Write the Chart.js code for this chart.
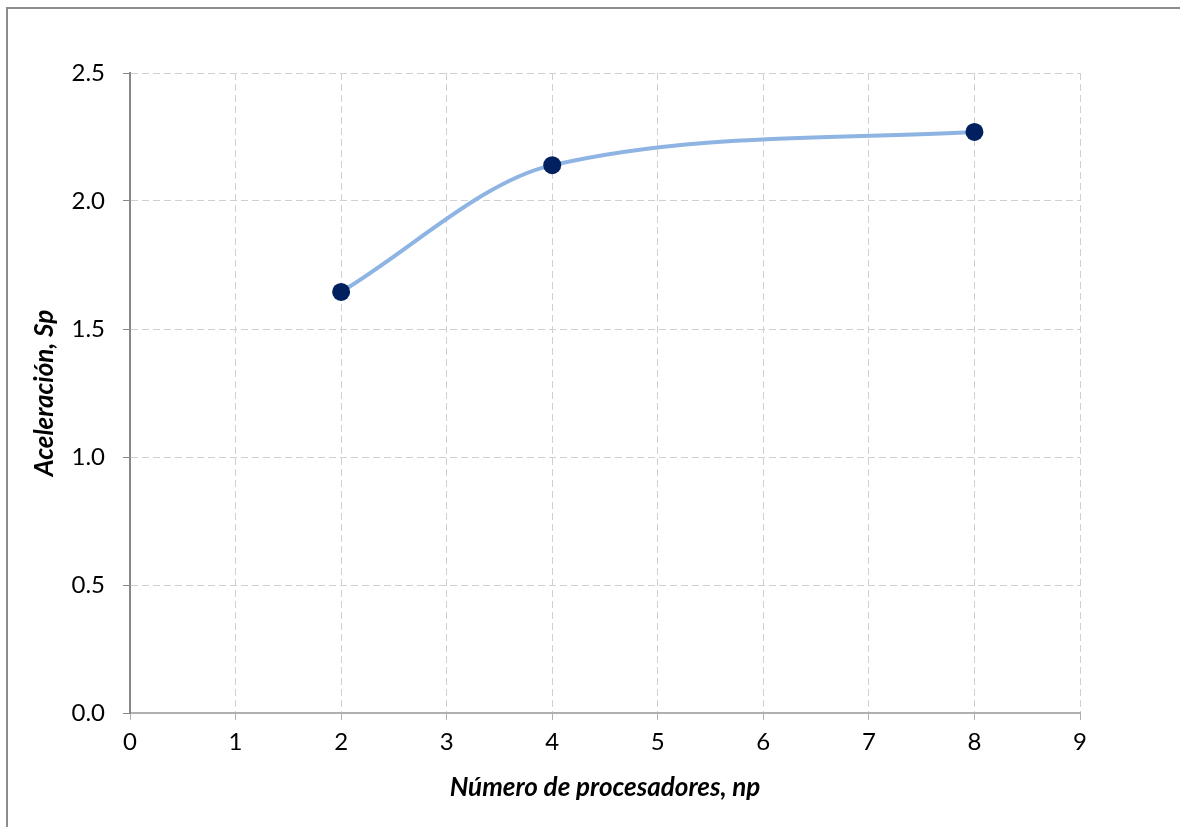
<!DOCTYPE html>
<html>
<head>
<meta charset="utf-8">
<script src="https://cdn.jsdelivr.net/npm/chart.js@4"></script>
<style>
    body { margin: 0; background: #fff; }
    #frame {
        position: absolute; left: 6px; top: 7px; width: 1200px; height: 850px;
        border-top: 2px solid #8c8c8c; border-left: 2px solid #8c8c8c;
    }
    #container { position: absolute; left: 0; top: 0; width: 1180px; height: 827px; }
</style>
</head>
<body>
<div id="frame"></div>
<div id="container">
    <canvas id="speedup" width="1180" height="827"></canvas>
</div>

<script>
    // values
    var processors = [2, 4, 8];
    var speedup = [1.645, 2.14, 2.27];
    var xTitle = 'Número de procesadores, np';
    var yTitle = 'Aceleración, Sp';

    var points = processors.map(function (p, i) { return {x: p, y: speedup[i]}; });

    var ctx = document.getElementById('speedup').getContext('2d');
    var chart = new Chart(ctx, {
        type: 'scatter',
        data: {
            datasets: [{
                data: points,
                showLine: true,
                borderColor: '#8db4e2',
                borderWidth: 4,
                cubicInterpolationMode: 'monotone',
                pointRadius: 9,
                pointHoverRadius: 9,
                pointBackgroundColor: '#002060',
                pointBorderColor: '#002060',
                pointBorderWidth: 0
            }]
        },
        options: {
            responsive: false,
            animation: false,
            layout: { padding: { top: 73, right: 100, bottom: 0, left: 0 } },
            plugins: { legend: { display: false }, tooltip: { enabled: false } },
            scales: {
                x: {
                    type: 'linear', min: 0, max: 9,
                    afterFit: function (s) { s.height = 114; },
                    ticks: { stepSize: 1, color: '#000', padding: 8,
                             font: { family: 'Lato', size: 24 } },
                    grid: { color: '#d0d0d0', tickLength: 7, tickColor: '#b0b0b0',
                            tickBorderDash: [] },
                    border: { color: '#b0b0b0', width: 2, dash: [7, 4] },
                    title: { display: true, text: xTitle, color: '#000',
                             padding: { top: 0, bottom: 24 },
                             font: { family: 'Lato', size: 26, weight: 'bold', style: 'italic' } }
                },
                y: {
                    min: 0, max: 2.5,
                    afterFit: function (s) { s.width = 130; },
                    ticks: { stepSize: 0.5, color: '#000', padding: 18,
                             font: { family: 'Lato', size: 24 },
                             callback: function (v) { return v.toFixed(1); } },
                    grid: { color: '#d0d0d0', tickLength: 7, tickColor: '#888888',
                            tickBorderDash: [] },
                    border: { color: '#888888', width: 2, dash: [7, 4] },
                    title: { display: true, text: yTitle, color: '#000',
                             padding: { top: 29, bottom: 0 },
                             font: { family: 'Lato', size: 26, weight: 'bold', style: 'italic' } }
                }
            }
        }
    });
</script>
</body>
</html>
